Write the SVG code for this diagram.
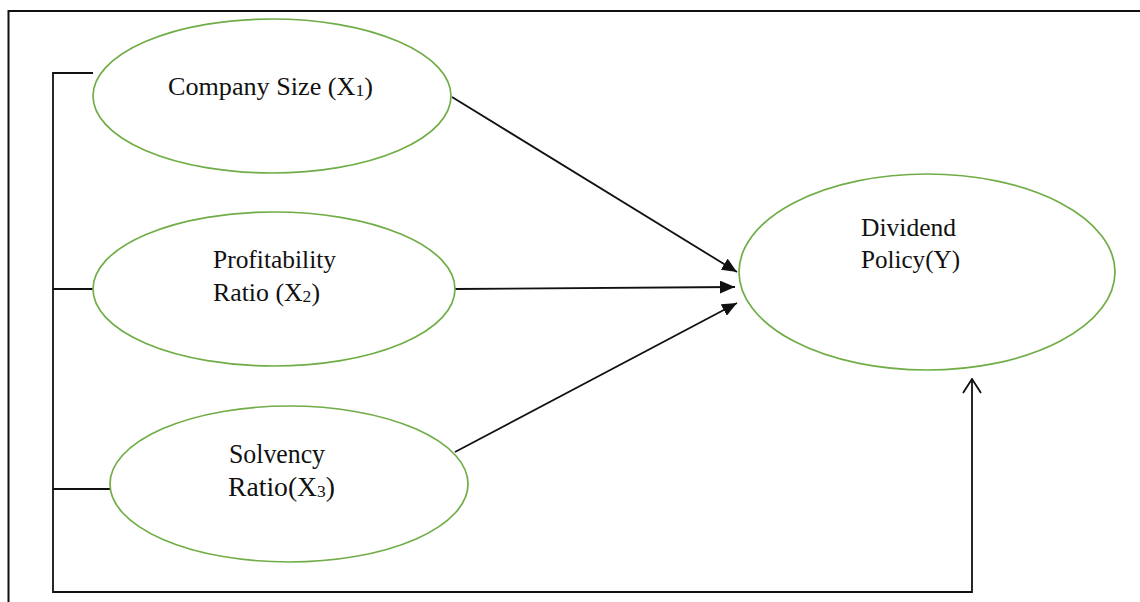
<svg xmlns="http://www.w3.org/2000/svg" width="1140" height="602" viewBox="0 0 1140 602">
<style>
.node{fill:#fff;stroke:#70ad47;stroke-width:1.7}
.lbl{font-family:"Liberation Serif","Times New Roman",serif;font-size:25px;fill:#111}
.tall{font-size:27px}
.sub{font-size:17px}
.ln{fill:none;stroke:#111;stroke-width:1.8}
</style>
<defs>
<marker id="ah" viewBox="0 0 15 13" refX="15" refY="6.5" markerWidth="15" markerHeight="13" markerUnits="userSpaceOnUse" orient="auto">
<path d="M0,0 L15,6.5 L0,13 Z" fill="#111"/>
</marker>
<marker id="oh" viewBox="0 0 20 20" refX="10" refY="1" markerWidth="20" markerHeight="20" markerUnits="userSpaceOnUse" orient="0">
<path d="M1,15 L10,1 L19,15" fill="none" stroke="#111" stroke-width="1.8"/>
</marker>
</defs>
<rect x="0" y="0" width="1140" height="602" fill="#fff"/>
<path d="M8.5,620 L8.5,11 L1140,11" fill="none" stroke="#111" stroke-width="2"/>
<g id="connectors">
<path class="ln" d="M93,73 L53,73 L53,592 L972,592 L972,379" marker-end="url(#oh)"/>
<path class="ln" d="M53,289 L93,289"/>
<path class="ln" d="M53,489 L110,489"/>
<path class="ln" d="M452,97 L737,272" marker-end="url(#ah)"/>
<path class="ln" d="M455,289 L735,287" marker-end="url(#ah)"/>
<path class="ln" d="M455,452 L737,303" marker-end="url(#ah)"/>
</g>
<g id="company-size">
<ellipse class="node" cx="272" cy="96" rx="179" ry="77"/>
<text class="lbl" x="168" y="95" textLength="205" lengthAdjust="spacingAndGlyphs">Company Size (X<tspan class="sub" dy="1">1</tspan><tspan dy="-1">)</tspan></text>
</g>
<g id="profitability">
<ellipse class="node" cx="274" cy="289" rx="181" ry="77"/>
<text class="lbl" x="213" y="268" textLength="123" lengthAdjust="spacingAndGlyphs">Profitability</text>
<text class="lbl" x="213" y="301" textLength="107" lengthAdjust="spacingAndGlyphs">Ratio (X<tspan class="sub" dy="1">2</tspan><tspan dy="-1">)</tspan></text>
</g>
<g id="solvency">
<ellipse class="node" cx="289" cy="484" rx="179" ry="78"/>
<text class="lbl tall" x="229" y="463" textLength="96" lengthAdjust="spacingAndGlyphs">Solvency</text>
<text class="lbl tall" x="228" y="496" textLength="107" lengthAdjust="spacingAndGlyphs">Ratio(X<tspan class="sub" dy="1">3</tspan><tspan dy="-1">)</tspan></text>
</g>
<g id="dividend-policy">
<ellipse class="node" cx="927" cy="272" rx="188" ry="98"/>
<text class="lbl" x="861" y="236" textLength="95" lengthAdjust="spacingAndGlyphs">Dividend</text>
<text class="lbl" x="861" y="268" textLength="99" lengthAdjust="spacingAndGlyphs">Policy(Y)</text>
</g>
</svg>
